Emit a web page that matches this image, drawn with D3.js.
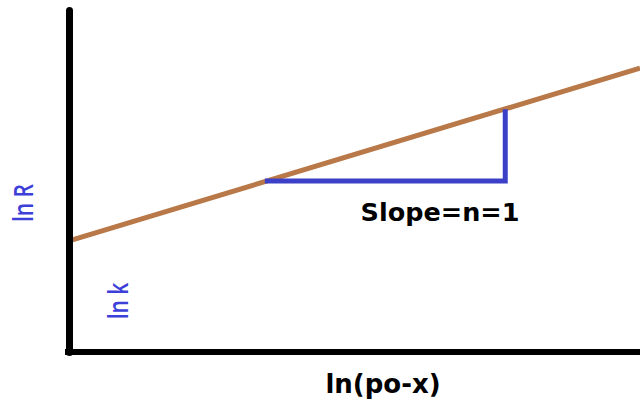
<!DOCTYPE html>
<html><head><meta charset="utf-8">
<script src="https://cdn.jsdelivr.net/npm/d3@7"></script>
<style>html,body{margin:0;padding:0;background:#fff;}svg{display:block;}</style>
</head><body>
<svg id="chart" width="640" height="401"></svg>
<script>
// Data (in axis units)
const lineX = [0, 10];
const lineY = [1.95, 4.98];
const triX = [3.43, 7.64, 7.64];
const triY = [3.0, 3.0, 4.26];
const xLabel = "ln(po-x)";
const yLabel = "ln R";
const interceptLabel = "ln k";
const slopeLabel = "Slope=n=1";

const svg = d3.select("#chart");
const x = d3.scaleLinear().domain([0, 10]).range([69, 640]);
const y = d3.scaleLinear().domain([0, 6]).range([352, 10]);

// data line
const line = d3.line().x((d,i)=>x(lineX[i])).y((d,i)=>y(lineY[i]));
svg.append("path").datum(lineX).attr("d", line)
  .attr("fill","none").attr("stroke","#b87848").attr("stroke-width",5);

// slope triangle
const tri = d3.line().x((d,i)=>x(triX[i])).y((d,i)=>y(triY[i]));
svg.append("path").datum(triX).attr("d", tri)
  .attr("fill","none").attr("stroke","#3c40c8").attr("stroke-width",5)
  .attr("stroke-linejoin","miter").attr("stroke-linecap","butt");

// axes
const xAxis = svg.append("g").attr("transform",`translate(0,${y(0)})`)
  .call(d3.axisBottom(x).tickValues([]).tickSizeOuter(0));
const yAxis = svg.append("g").attr("transform",`translate(${x(0)},0)`)
  .call(d3.axisLeft(y).tickValues([]).tickSizeOuter(0));
xAxis.select(".domain").attr("stroke","#000").attr("stroke-width",6);
yAxis.select(".domain").attr("stroke","#000").attr("stroke-width",7).attr("stroke-linecap","round");
xAxis.select(".domain").attr("d", `M${x(0)-4},0H${x(10)}`);

// labels
svg.append("text").attr("x", 383).attr("y", 393).attr("text-anchor","middle")
  .attr("font-family","DejaVu Sans").attr("font-weight",700).attr("font-size",26)
  .attr("fill","#000").text(xLabel);
svg.append("text").attr("x", 440).attr("y", 221).attr("text-anchor","middle")
  .attr("font-family","DejaVu Sans").attr("font-weight",700).attr("font-size",25.5)
  .attr("fill","#000").text(slopeLabel);
svg.append("text").attr("transform","translate(33,203) rotate(-90) scale(1,1.25)").attr("text-anchor","middle")
  .attr("font-family","Open Sans").attr("font-weight",600).attr("font-size",21).attr("fill","#3c40d8").text(yLabel);
svg.append("text").attr("transform","translate(128,301) rotate(-90) scale(1,1.25)").attr("text-anchor","middle")
  .attr("font-family","Open Sans").attr("font-weight",600).attr("font-size",21).attr("fill","#3c40d8").text(interceptLabel);
</script>
</body></html>
